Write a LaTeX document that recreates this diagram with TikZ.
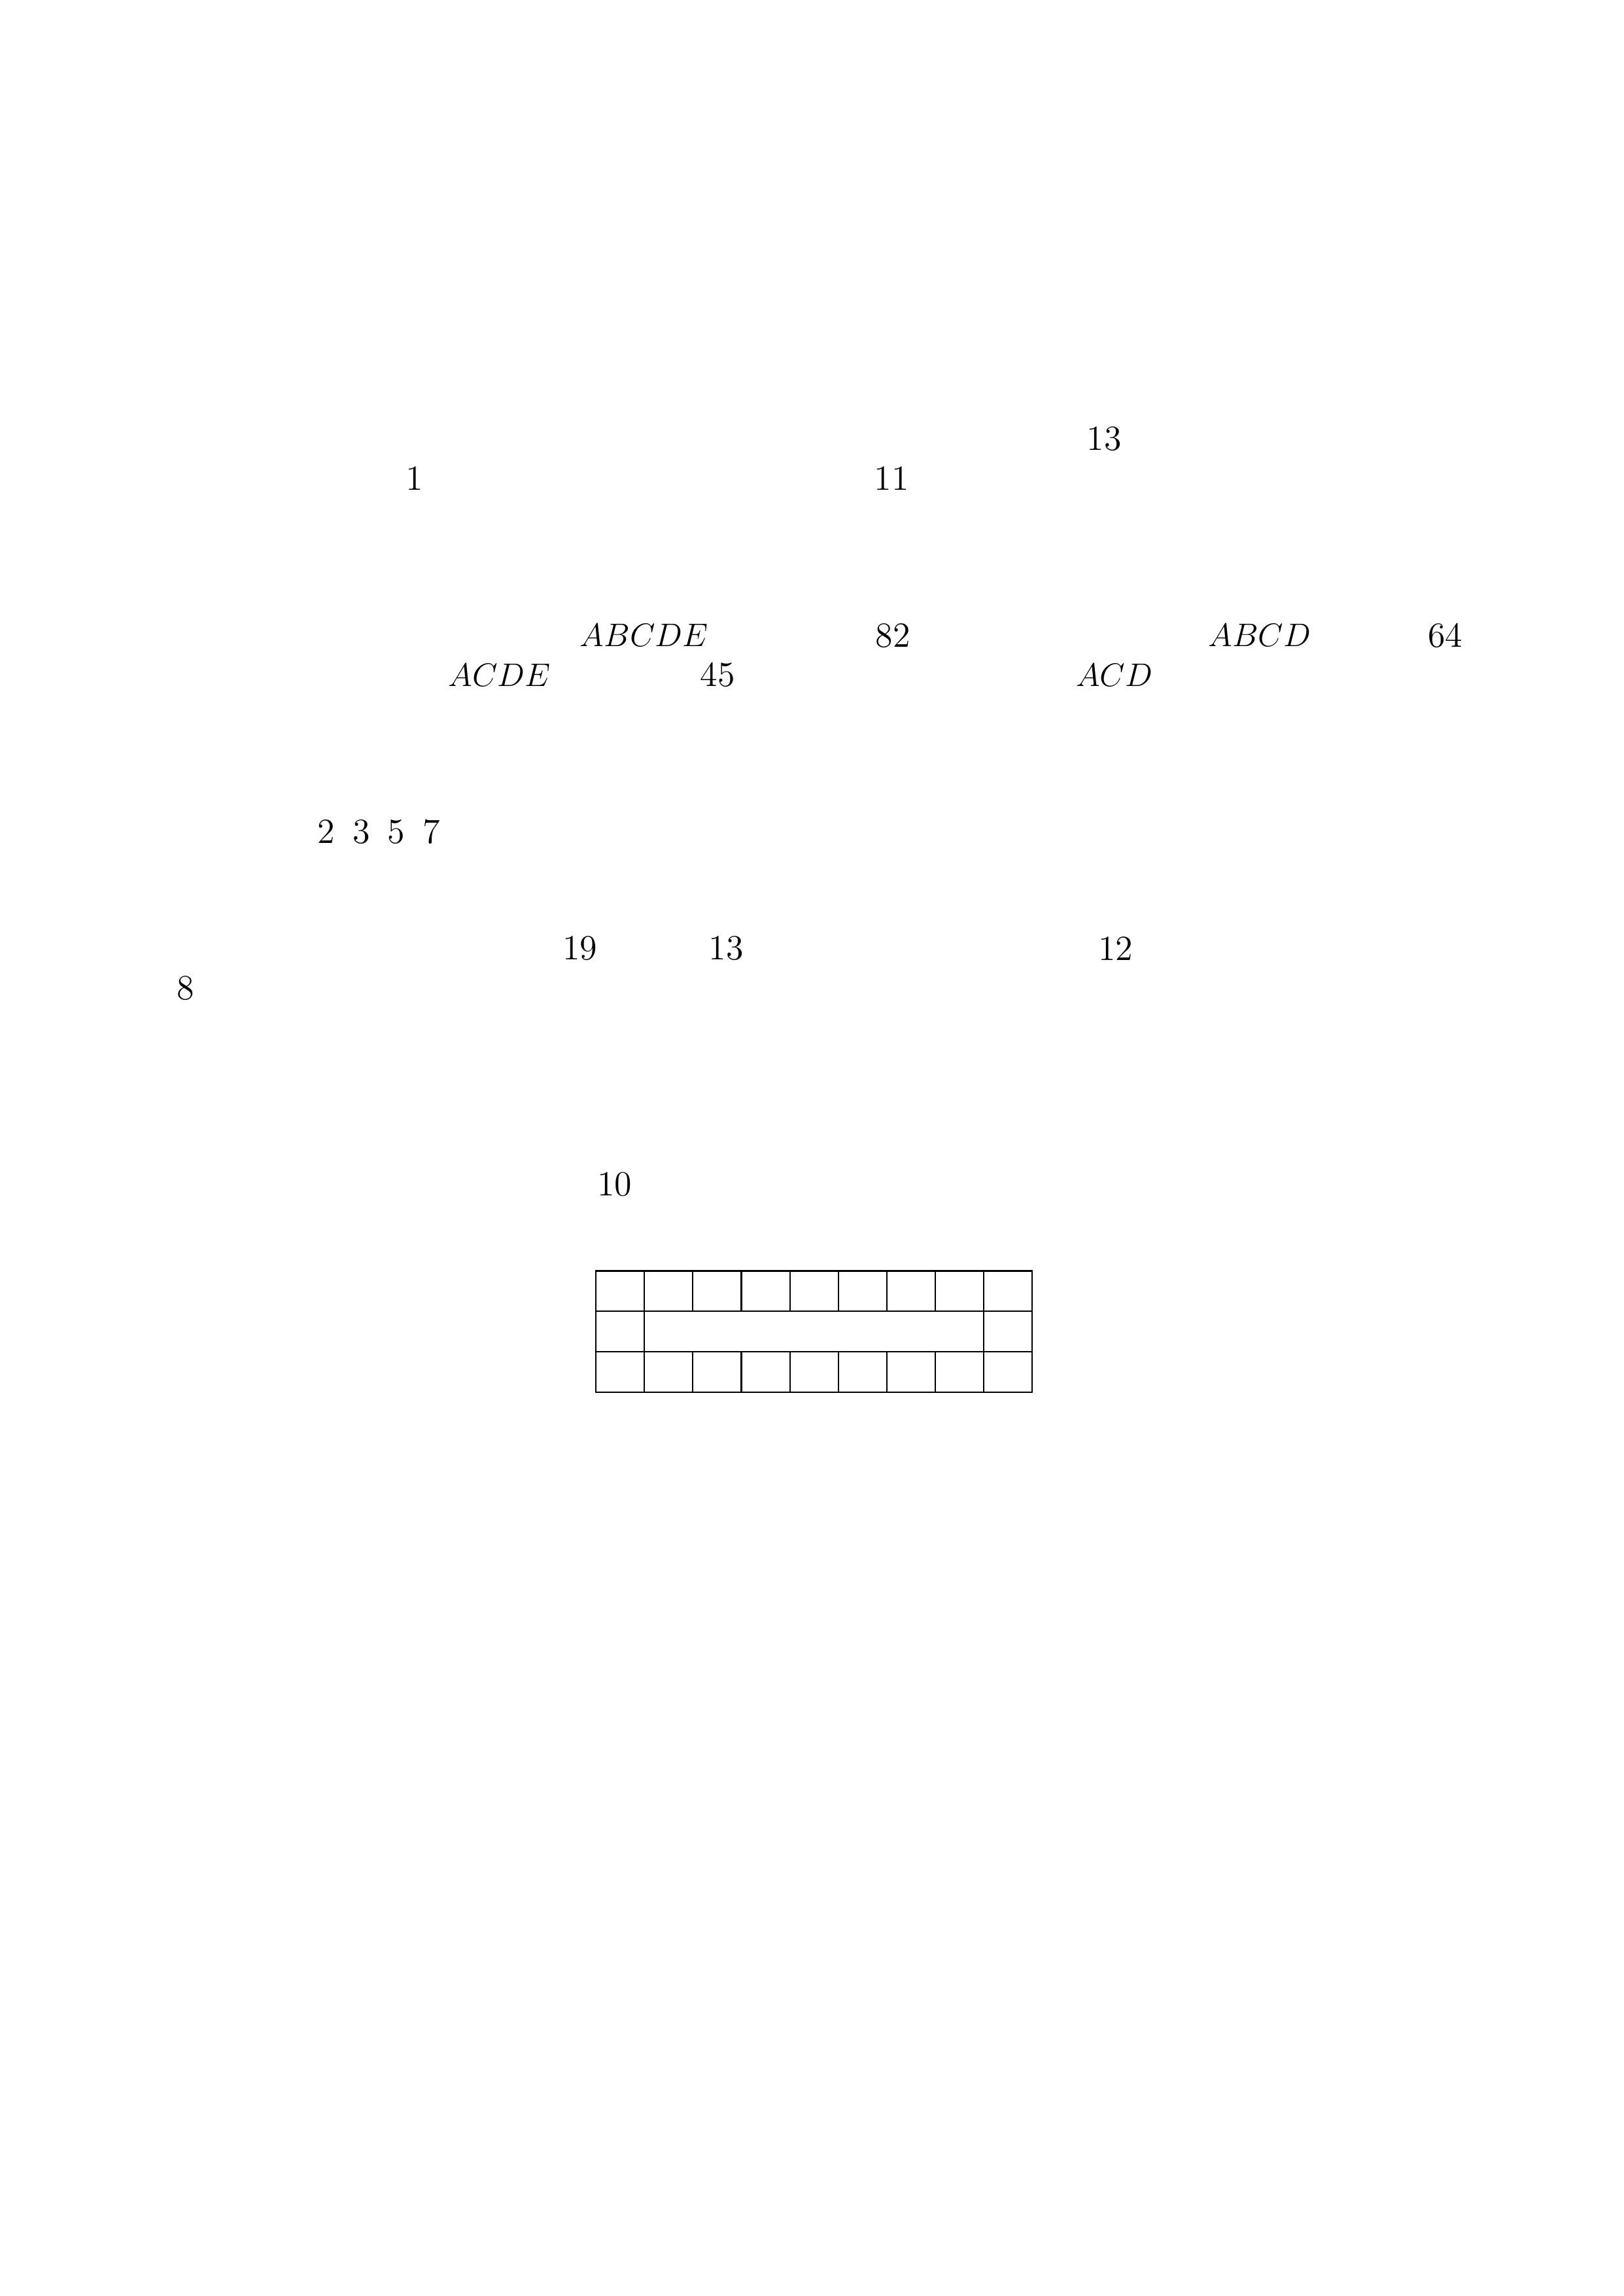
\documentclass[tikz,border=0pt]{standalone}
\begin{document}
\begin{tikzpicture}[every node/.style={font=\fontsize{13pt}{15pt}\selectfont,inner sep=1pt}]
                \useasboundingbox (0,0) rectangle (21,-29.7);
                \node (thirteena) at (14.28,-5.68) {13};
                \node (one) at (5.36,-6.19) {1};
                \node (eleven) at (11.53,-6.19) {11};
                \node (abcde) at (8.33,-8.22) {$ABCDE$};
                \node (eightytwo) at (11.55,-8.22) {82};
                \node (abcd) at (16.29,-8.22) {$ABCD$};
                \node (sixtyfour) at (18.69,-8.22) {64};
                \node (acde) at (6.46,-8.73) {$ACDE$};
                \node (fortyfive) at (9.28,-8.73) {45};
                \node (acd) at (14.41,-8.73) {$ACD$};
                \node (primes) at (4.90,-10.76) {2\enspace 3\enspace 5\enspace 7};
                \node (nineteen) at (7.50,-12.27) {19};
                \node (thirteenb) at (9.39,-12.27) {13};
                \node (twelve) at (14.43,-12.27) {12};
                \node (eight) at (2.40,-12.78) {8};
                \node (ten) at (7.95,-15.32) {10};
                % grid
                \begin{scope}[shift={(7.707,-16.44)},x=0.627cm,y=-0.524cm,line width=0.5pt]
                \draw (0,0) rectangle (9,3);
                \draw (0,1) -- (9,1);
                \draw (0,2) -- (9,2);
                \foreach \c in {1,...,8} {
                    \draw (\c,0) -- (\c,1);
                    \draw (\c,2) -- (\c,3);
                }
                \draw (1,1) -- (1,2);
                \draw (8,1) -- (8,2);
                \end{scope}
            \end{tikzpicture}
\end{document}
